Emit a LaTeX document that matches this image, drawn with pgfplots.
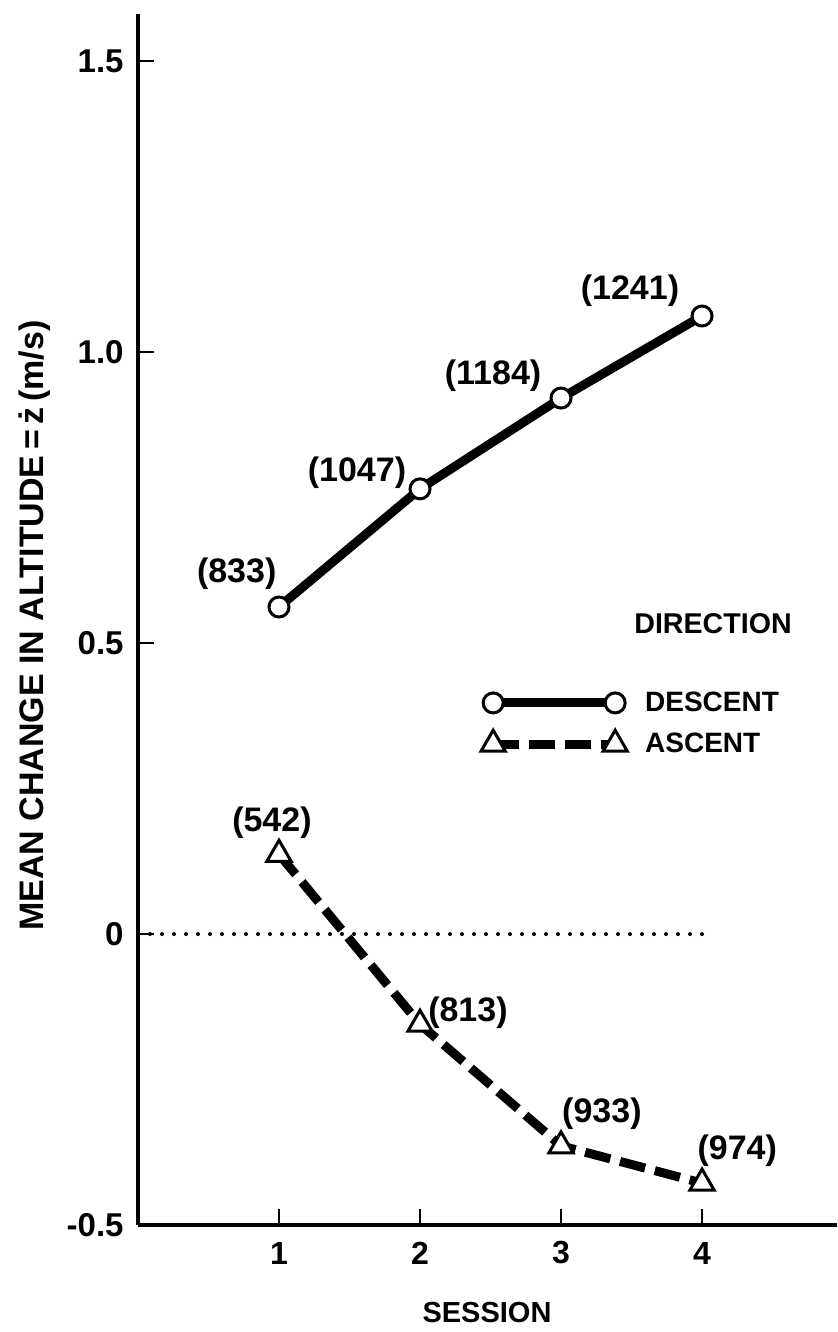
\documentclass[border=0pt]{standalone}
\usepackage{fontspec}
\setmainfont{Liberation Sans}
\usepackage{pgfplots}
\pgfplotsset{compat=1.18}
\begin{document}
\begin{tikzpicture}
\useasboundingbox (-69pt,-53.5pt) rectangle (350pt,612.5pt);
\begin{axis}[
  at={(0,0)}, anchor=south west,
  scale only axis,
  width=349.7pt, height=605.5pt,
  xmin=0, xmax=4.96, ymin=-0.5, ymax=1.581,
  axis lines=left,
  axis line style={-, line width=2pt},
  clip=false,
  xtick={1,2,3,4},
  ytick={-0.5,0,0.5,1,1.5},
  yticklabels={-0.5,0,0.5,1.0,1.5},
  tick align=inside,
  major tick length=8pt,
  tick style={line width=1.3pt, black},
  /pgf/number format/assume math mode=true,
  yticklabel style={font=\bfseries\fontsize{16.5}{18}\selectfont, anchor=east, inner sep=0pt, xshift=-7pt},
  xticklabel style={font=\bfseries\fontsize{16}{18}\selectfont, anchor=center, inner sep=0pt, yshift=-14pt},
  xlabel={SESSION},
  ylabel={MEAN CHANGE IN ALTITUDE\,=\,ż\,(m/s)},
  xlabel style={font=\bfseries\fontsize{14.5}{17}\selectfont, at={(axis description cs:0.499,0)}, anchor=center, yshift=-44pt},
  ylabel style={font=\bfseries\fontsize{17}{19}\selectfont, at={(axis description cs:-0.147,0.495)}, anchor=center},
  legend style={at={(axis cs:2.43,0.3617)}, anchor=west, draw=none, fill=none, inner sep=0pt,
    font=\bfseries\fontsize{14}{16}\selectfont, row sep=7pt,
    nodes={inner sep=1pt, anchor=west}},
  legend cell align=left,
  legend image code/.code={\path[draw=none, fill=none] (0pt,0pt) -- (75pt,0pt);
    \draw[mark repeat=1] plot coordinates {(0pt,0pt) (61pt,0pt)};},
]
\addplot[line width=2pt, black, line cap=round, dash pattern=on 0pt off 6pt, forget plot]
  coordinates {(0,0) (4,0)};
\addplot[black, line width=4.5pt, mark=*, mark size=5pt,
  mark options={fill=white, draw=black, line width=1.5pt, solid}]
  coordinates {(1,0.562) (2,0.765) (3,0.921) (4,1.062)};
\addlegendentry{DESCENT}
\addplot[black, line width=4.5pt, dash pattern=on 13pt off 5pt, mark=triangle*, mark size=7pt,
  mark options={fill=white, draw=black, line width=1.5pt, solid}]
  coordinates {(1,0.137) (2,-0.155) (3,-0.364) (4,-0.428)};
\addlegendentry{ASCENT}
\begin{scope}[every node/.style={font=\bfseries\fontsize{17}{19}\selectfont}]
\node at (axis cs:0.70,0.620) {(833)};
\node at (axis cs:1.553,0.792) {(1047)};
\node at (axis cs:2.518,0.959) {(1184)};
\node at (axis cs:3.489,1.105) {(1241)};
\node at (axis cs:0.95,0.191) {(542)};
\node at (axis cs:2.34,-0.136) {(813)};
\node at (axis cs:3.29,-0.309) {(933)};
\node at (axis cs:4.25,-0.373) {(974)};
\end{scope}
\node[font=\bfseries\fontsize{14.3}{16}\selectfont] at (axis cs:4.078,0.533) {DIRECTION};
\end{axis}
\end{tikzpicture}
\end{document}
